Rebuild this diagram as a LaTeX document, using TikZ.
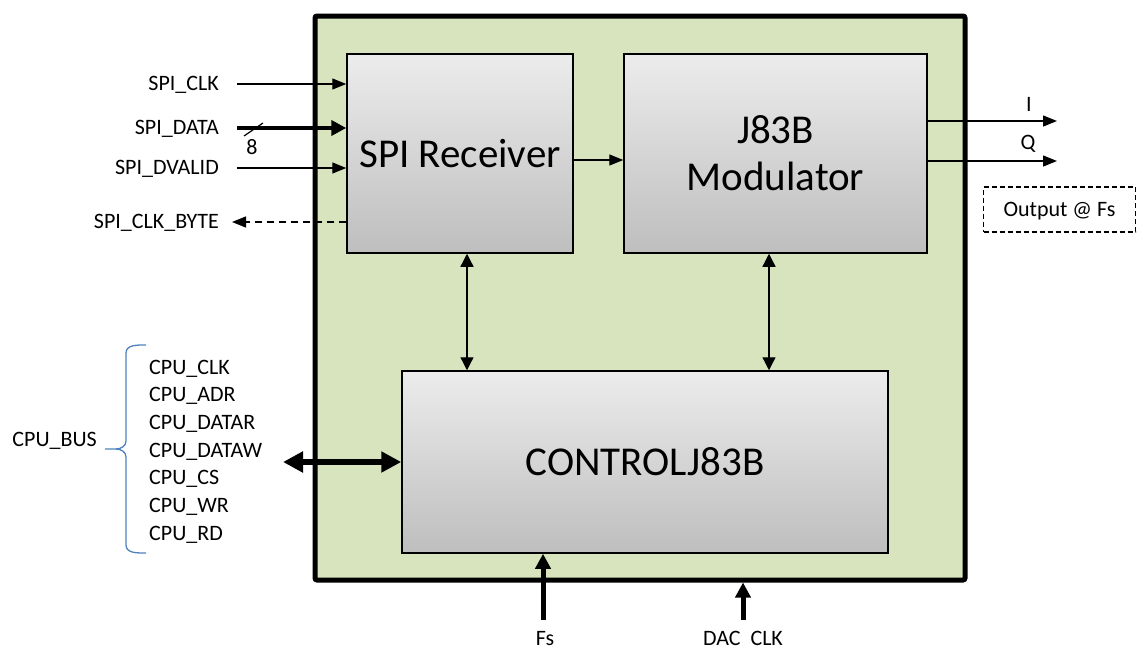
\documentclass[tikz,border=0pt]{standalone}
\usepackage{fontspec}
\setmainfont{Carlito}
\usepackage{tikz}
\usetikzlibrary{arrows.meta}
\definecolor{chipgreen}{RGB}{215, 228, 189}
\definecolor{boxtop}{RGB}{236, 236, 236}
\definecolor{boxbottom}{RGB}{190, 190, 190}
\definecolor{bracecolor}{RGB}{79, 129, 189}
\tikzset{
  lbl/.style={inner sep=0pt, font=\fontsize{22}{26}\selectfont, text height=13.9pt, text depth=0pt},
  block/.style={draw, line width=1.5pt, top color=boxtop, bottom color=boxbottom, inner sep=0pt,
    align=center, font=\fontsize{41}{47}\selectfont},
  sig/.style={line width=1.3pt, -{Triangle[length=14pt, width=11pt]}},
  bisig/.style={line width=1.3pt, {Triangle[length=13pt, width=13pt]}-{Triangle[length=13pt, width=13pt]}},
  bus/.style={line width=4.5pt, -{Triangle[length=15pt, width=15pt]}},
}
\begin{document}
\begin{tikzpicture}[x=1pt, y=-1pt]
        \useasboundingbox (0,0) rectangle (1137,653);
        % chip outline
        \node[draw, line width=5pt, fill=chipgreen, rounded corners=2pt, minimum width=650pt, minimum height=564pt, inner sep=0pt] (chip) at (640,298) {};

        % blocks
        \node[block, minimum width=226pt, minimum height=199pt] (spi) at (460,153.5) {SPI Receiver};
        \node[block, minimum width=303pt, minimum height=199pt] (mod) at (775.5,153.5) {J83B\\Modulator};
        \node[block, minimum width=486pt, minimum height=182pt] (ctrl) at (645,462) {CONTROLJ83B};

        % SPI inputs
        \node[lbl, anchor=east] (spiclk) at (219,84) {SPI\_CLK};
        \node[lbl, anchor=east] (spidata) at (219,128) {SPI\_DATA};
        \node[lbl, anchor=east] (spidvalid) at (219,168) {SPI\_DVALID};
        \node[lbl, anchor=east] (spibyte) at (219,222) {SPI\_CLK\_BYTE};
        \draw[sig] ([xshift=18pt]spiclk.east) -- (spiclk.east -| spi.west);
        \draw[bus] ([xshift=18pt]spidata.east) -- (spidata.east -| spi.west);
        \draw[sig] ([xshift=18pt]spidvalid.east) -- (spidvalid.east -| spi.west);
        \draw[sig, dash pattern=on 7pt off 5pt] (spibyte.east -| spi.west) -- ([xshift=13pt]spibyte.east);
        \draw[line width=1.2pt] (244,136) -- (263,123);
        \node[lbl] (width) at (252,148) {8};

        % SPI -> modulator
        \draw[sig] ([yshift=-6.5pt]spi.east) -- ([yshift=-6.5pt]spi.east -| mod.west);

        % outputs
        \coordinate (iout) at (1057,121);
        \coordinate (qout) at (1057,161);
        \draw[sig] (iout -| mod.east) -- (iout);
        \draw[sig] (qout -| mod.east) -- (qout);
        \node[lbl] (ilbl) at (1029,105) {I};
        \node[lbl] (qlbl) at (1028,143) {Q};
        \node[lbl, draw, line width=1.3pt, dash pattern=on 5pt off 3pt, minimum width=152pt, minimum height=45pt] (outfs) at (1059.5,209.5) {Output @ Fs};

        % links to control
        \draw[bisig] ([xshift=7pt]spi.south) -- ([xshift=7pt]spi.south |- ctrl.north);
        \draw[bisig] ([xshift=-6.5pt]mod.south) -- ([xshift=-6.5pt]mod.south |- ctrl.north);

        % CPU bus
        \foreach \nm [count=\i] in {CLK,ADR,DATAR,DATAW,CS,WR,RD}
          \node[lbl, anchor=west] (cpu\i) at (149,339.5+27.7*\i) {CPU\_\nm};
        \node[lbl, anchor=east] (cpubus) at (97,440) {CPU\_BUS};
        \draw[bracecolor, line width=1.3pt] (146,345) to[out=180,in=90] (126,353) -- (126,441) to[out=-90,in=0] (116,449) -- (105,449);
        \draw[bracecolor, line width=1.3pt] (116,449) to[out=0,in=90] (126,457) -- (126,545) to[out=-90,in=180] (146,553);
        \coordinate (busend) at (283,462);
        \draw[line width=6pt, {Triangle[length=20pt, width=20pt]}-{Triangle[length=20pt, width=20pt]}] (busend) -- (ctrl.west);

        % clocks
        \node[lbl] (fs) at (545,639) {Fs};
        \node[lbl] (dacclk) at (743,639) {DAC\ \ CLK};
        \coordinate (fsin) at (543,620);
        \coordinate (dacin) at (743,620);
        \draw[bus, line width=5pt] (fsin) -- (fsin |- ctrl.south);
        \draw[bus, line width=5pt] (dacin) -- (dacin |- chip.south);

    \end{tikzpicture}
\end{document}
